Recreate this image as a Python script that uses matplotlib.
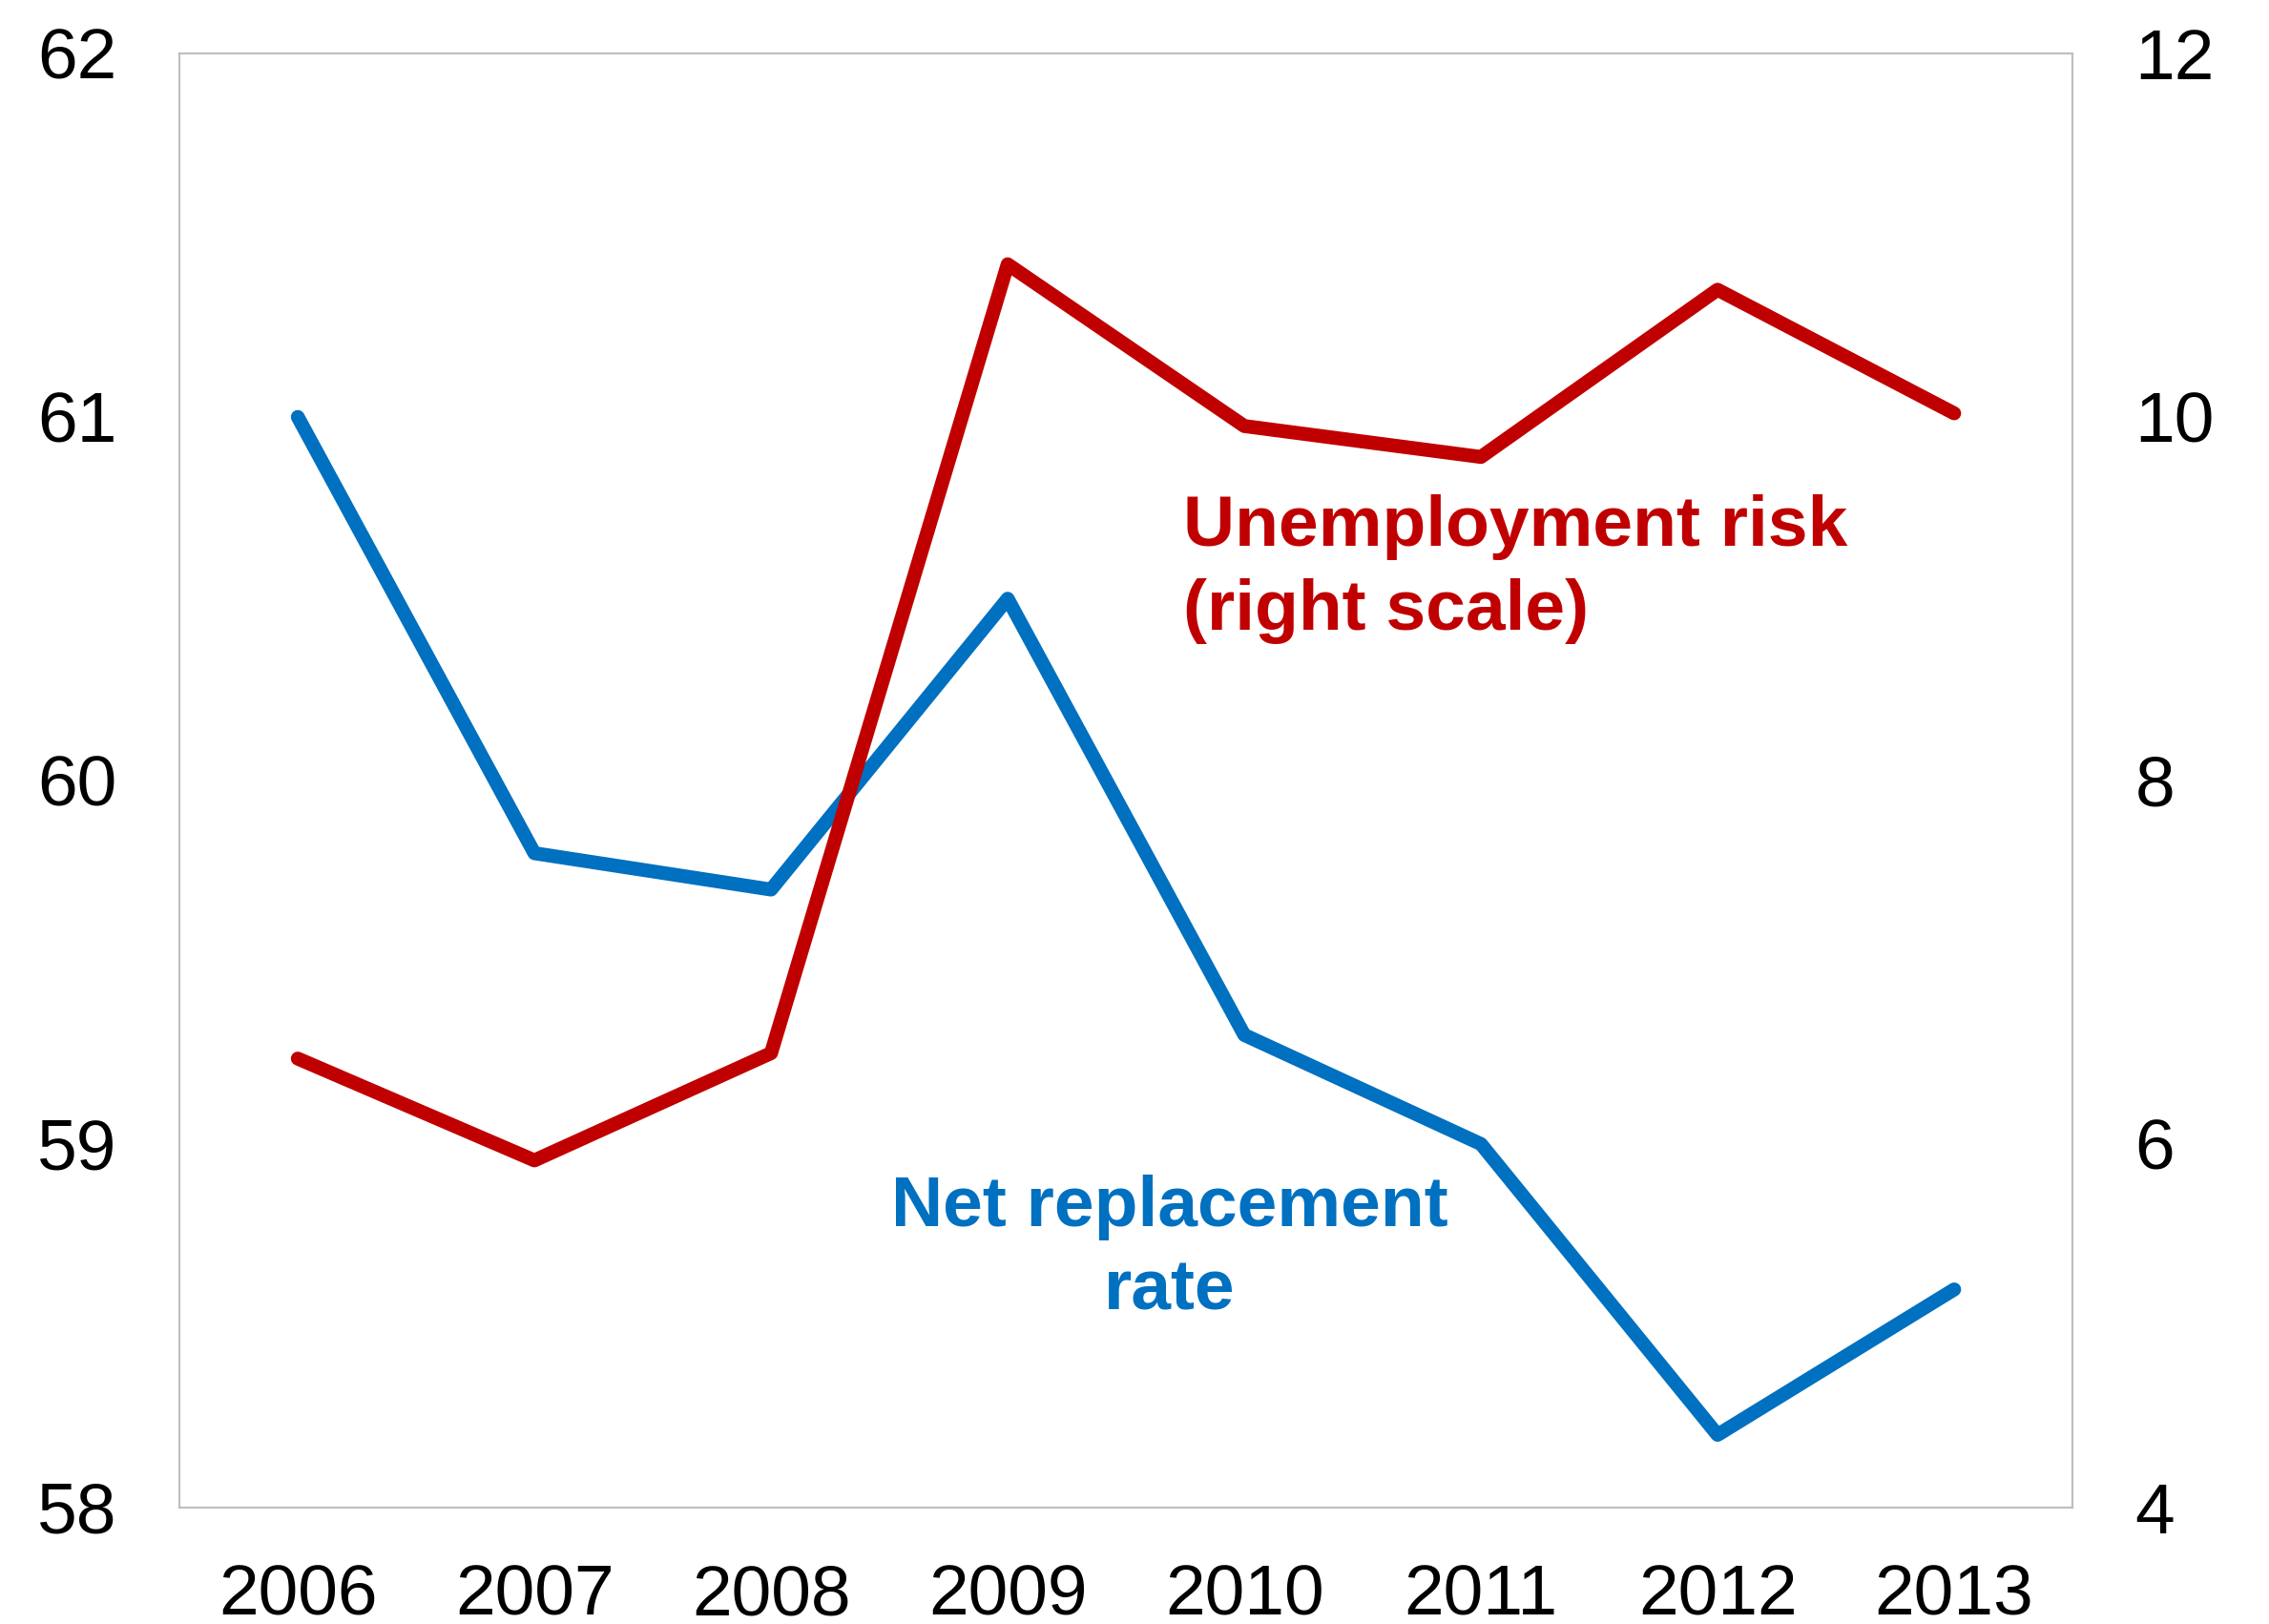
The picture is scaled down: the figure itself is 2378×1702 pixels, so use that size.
import matplotlib
matplotlib.use("Agg")
import matplotlib.pyplot as plt

plt.rcParams['font.family'] = ['Liberation Sans', 'DejaVu Sans']

years = ['2006', '2007', '2008', '2009', '2010', '2011', '2012', '2013']
net_replacement_rate = [61.0, 59.8, 59.7, 60.5, 59.3, 59.0, 58.2, 58.6]
unemployment_risk = [6.47, 5.91, 6.50, 10.84, 9.95, 9.78, 10.70, 10.02]
left_ticks = [58, 59, 60, 61, 62]
right_ticks = [4, 6, 8, 10, 12]

blue = '#0070C0'
red = '#C00000'

fig = plt.figure(figsize=(23.78, 17.02), dpi=100)
ax = fig.add_axes([0.0791, 0.0717, 0.8343, 0.8954])
ax2 = ax.twinx()

x = list(range(len(years)))
ax.plot(x, net_replacement_rate, color=blue, lw=10.5, solid_capstyle='round', solid_joinstyle='round', zorder=3)
ax2.plot(x, unemployment_risk, color=red, lw=10.5, solid_capstyle='round', solid_joinstyle='round', zorder=3)

ax.set_xlim(-0.5, len(years) - 0.5)
ax.set_ylim(58, 62)
ax2.set_ylim(4, 12)
ax.set_yticks(left_ticks)
ax2.set_yticks(right_ticks)
ax.set_xticks(x)
ax.set_xticklabels(years)

for a in (ax, ax2):
    for s in a.spines.values():
        s.set_color('#BFBFBF')
        s.set_linewidth(1.5)
ax.tick_params(axis='both', length=0, labelsize=54)
ax.tick_params(axis='x', pad=42)
ax.tick_params(axis='y', pad=47)
ax2.tick_params(axis='y', length=0, labelsize=54, pad=47)

ax.text(0.530, 0.697, 'Unemployment risk\n(right scale)', transform=ax.transAxes,
        color=red, fontsize=54, fontweight='bold', ha='left', va='top', linespacing=1.36)
ax.text(0.523, 0.229, 'Net replacement\nrate', transform=ax.transAxes,
        color=blue, fontsize=54, fontweight='bold', ha='center', va='top', linespacing=1.34, multialignment='center')

fig.savefig('out.png', dpi=100)
